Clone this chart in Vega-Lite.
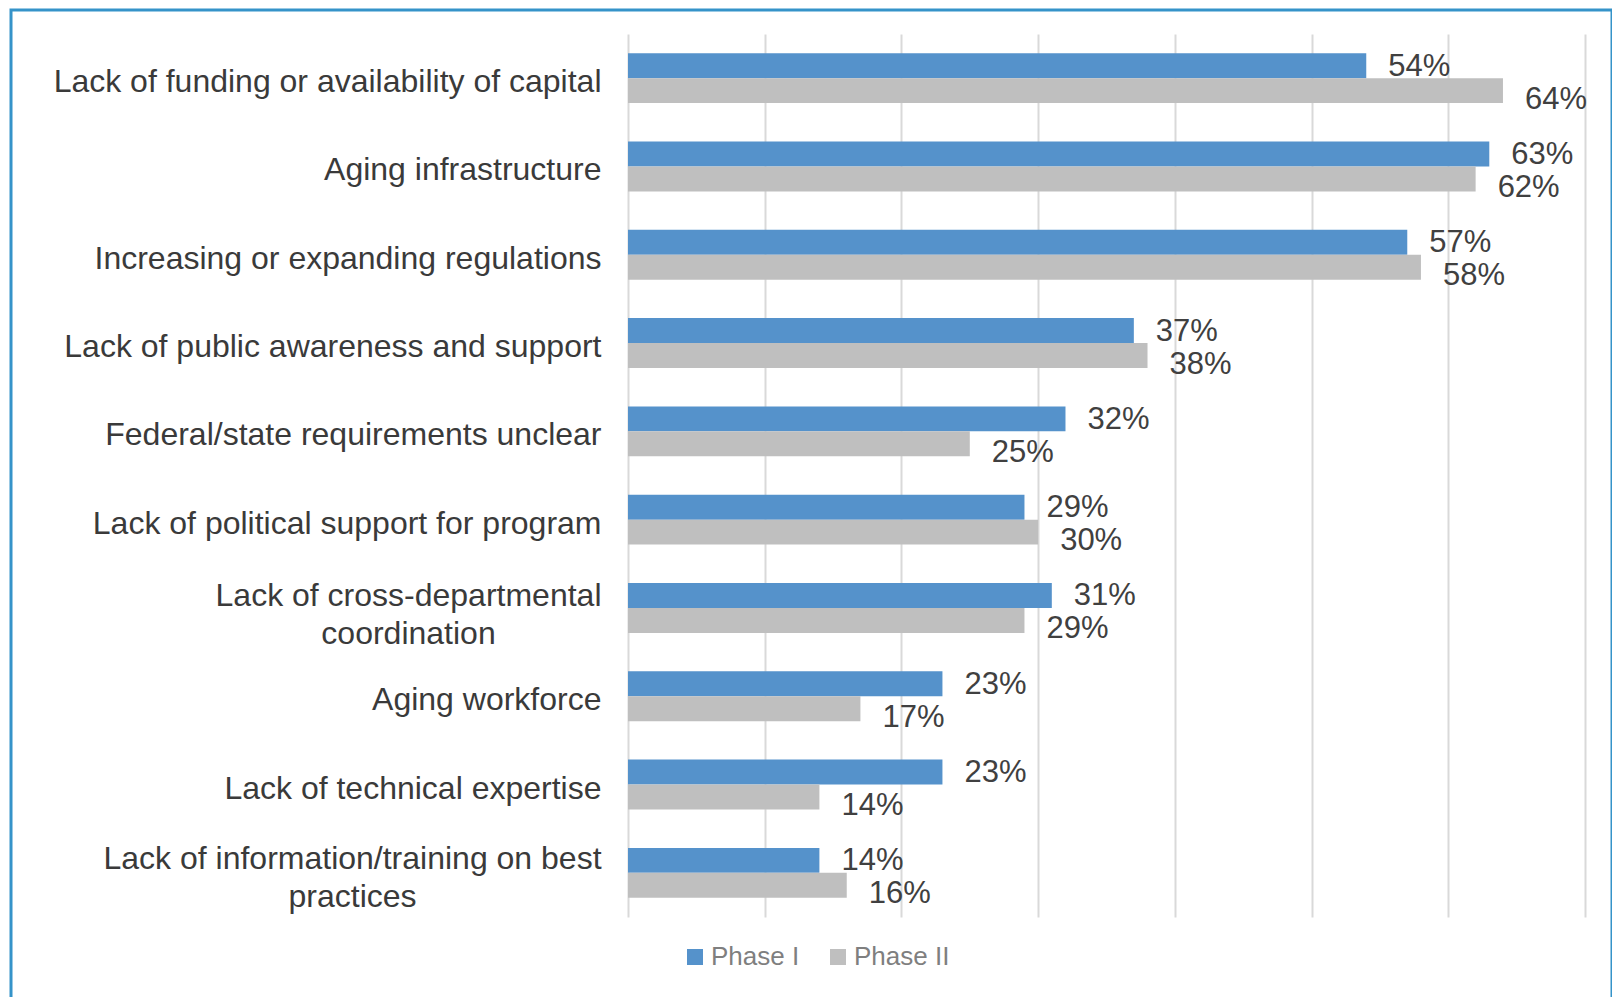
{
  "$schema": "https://vega.github.io/schema/vega-lite/v6.json",
  "width": 1601,
  "height": 992,
  "autosize": {"type": "none"},
  "padding": {"left": 11, "top": 10, "right": 0, "bottom": -5},
  "background": "#ffffff",
  "config": {
    "view": {"stroke": "#3593c9", "strokeWidth": 3},
    "font": "Liberation Sans"
  },
  "data": {
    "values": [
      {"cat": "Lack of funding or availability of capital", "phase": "Phase I", "value": 0.54},
      {"cat": "Lack of funding or availability of capital", "phase": "Phase II", "value": 0.64},
      {"cat": "Aging infrastructure", "phase": "Phase I", "value": 0.63},
      {"cat": "Aging infrastructure", "phase": "Phase II", "value": 0.62},
      {"cat": "Increasing or expanding regulations", "phase": "Phase I", "value": 0.57},
      {"cat": "Increasing or expanding regulations", "phase": "Phase II", "value": 0.58},
      {"cat": "Lack of public awareness and support", "phase": "Phase I", "value": 0.37},
      {"cat": "Lack of public awareness and support", "phase": "Phase II", "value": 0.38},
      {"cat": "Federal/state requirements unclear", "phase": "Phase I", "value": 0.32},
      {"cat": "Federal/state requirements unclear", "phase": "Phase II", "value": 0.25},
      {"cat": "Lack of political support for program", "phase": "Phase I", "value": 0.29},
      {"cat": "Lack of political support for program", "phase": "Phase II", "value": 0.30},
      {"cat": "Lack of cross-departmental coordination", "phase": "Phase I", "value": 0.31},
      {"cat": "Lack of cross-departmental coordination", "phase": "Phase II", "value": 0.29},
      {"cat": "Aging workforce", "phase": "Phase I", "value": 0.23},
      {"cat": "Aging workforce", "phase": "Phase II", "value": 0.17},
      {"cat": "Lack of technical expertise", "phase": "Phase I", "value": 0.23},
      {"cat": "Lack of technical expertise", "phase": "Phase II", "value": 0.14},
      {"cat": "Lack of information/training on best practices", "phase": "Phase I", "value": 0.14},
      {"cat": "Lack of information/training on best practices", "phase": "Phase II", "value": 0.16}
    ]
  },
  "encoding": {
    "y": {
      "field": "cat",
      "type": "nominal",
      "sort": null,
      "scale": {"range": [24, 907], "paddingInner": 0, "paddingOuter": 0},
      "axis": {
        "title": null,
        "domain": false,
        "ticks": false,
        "grid": false,
        "offset": -617,
        "labelPadding": {
          "condition": [
            {"test": "datum.value == 'Lack of cross-departmental coordination'", "value": 220},
            {"test": "datum.value == 'Lack of information/training on best practices'", "value": 276}
          ],
          "value": 27
        },
        "labelAlign": {
          "condition": {"test": "datum.value == 'Lack of cross-departmental coordination' || datum.value == 'Lack of information/training on best practices'", "value": "center"},
          "value": "right"
        },
        "labelFontSize": 32,
        "labelColor": "#3a3a3a",
        "labelFont": "Liberation Sans",
        "labelLimit": 900,
        "labelLineHeight": 38,
        "labelOffset": {
          "condition": [
            {"test": "datum.value == 'Lack of cross-departmental coordination'", "value": -12},
            {"test": "datum.value == 'Lack of information/training on best practices'", "value": -14}
          ],
          "value": 4
        },
        "labelExpr": "datum.value == 'Lack of cross-departmental coordination' ? ['Lack of cross-departmental', 'coordination'] : datum.value == 'Lack of information/training on best practices' ? ['Lack of information/training on best', 'practices'] : datum.label"
      }
    },
    "yOffset": {
      "field": "phase",
      "type": "nominal",
      "scale": {"domain": ["Phase I", "Phase II"], "paddingInner": 0, "paddingOuter": 0.77}
    },
    "x": {
      "field": "value",
      "type": "quantitative",
      "scale": {"domain": [0, 0.7], "range": [617, 1574], "nice": false, "zero": true},
      "axis": {
        "orient": "top",
        "title": null,
        "labels": false,
        "ticks": false,
        "domain": false,
        "grid": true,
        "gridColor": "#d9d9d9",
        "gridWidth": 2,
        "values": [0, 0.1, 0.2, 0.3, 0.4, 0.5, 0.6, 0.7]
      }
    }
  },
  "layer": [
    {
      "mark": {"type": "bar"},
      "encoding": {
        "color": {
          "field": "phase",
          "type": "nominal",
          "scale": {"domain": ["Phase I", "Phase II"], "range": ["#5592CB", "#BFBFBF"]},
          "legend": {
            "title": null,
            "orient": "none",
            "direction": "horizontal",
            "legendX": 671,
            "legendY": 934,
            "symbolType": "square",
            "symbolSize": 256,
            "symbolStrokeWidth": 0,
            "labelFontSize": 26,
            "labelColor": "#7f7f7f",
            "labelFont": "Liberation Sans",
            "labelOffset": 3,
            "columnPadding": 25,
            "padding": 0
          }
        }
      }
    },
    {
      "transform": [{"filter": "datum.phase == 'Phase I'"}],
      "mark": {"type": "text", "align": "left", "baseline": "middle", "dx": 22, "dy": 1, "fontSize": 31, "color": "#404040", "font": "Liberation Sans"},
      "encoding": {"text": {"field": "value", "type": "quantitative", "format": ".0%"}}
    },
    {
      "transform": [{"filter": "datum.phase == 'Phase II'"}],
      "mark": {"type": "text", "align": "left", "baseline": "middle", "dx": 22, "dy": 9, "fontSize": 31, "color": "#404040", "font": "Liberation Sans"},
      "encoding": {"text": {"field": "value", "type": "quantitative", "format": ".0%"}}
    }
  ]
}
